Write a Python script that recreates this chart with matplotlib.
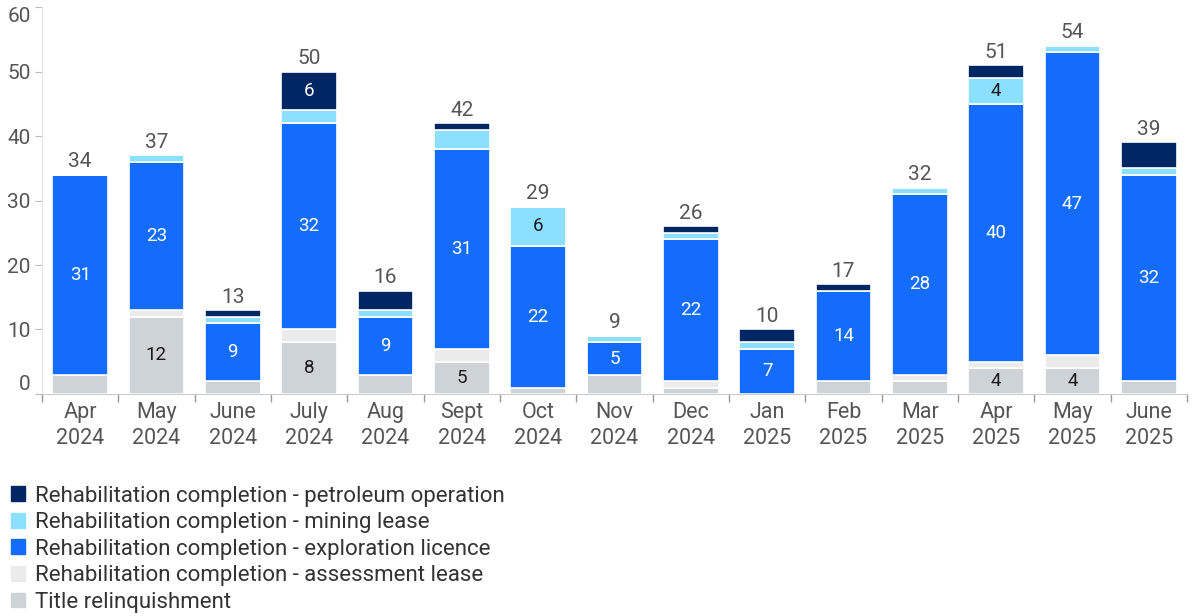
import numpy as np
import matplotlib.pyplot as plt
from matplotlib.patches import Patch

plt.rcParams['font.family'] = ['Roboto', 'DejaVu Sans']

# data
months = ['Apr\n2024', 'May\n2024', 'June\n2024', 'July\n2024', 'Aug\n2024', 'Sept\n2024', 'Oct\n2024',
          'Nov\n2024', 'Dec\n2024', 'Jan\n2025', 'Feb\n2025', 'Mar\n2025', 'Apr\n2025', 'May\n2025', 'June\n2025']
title_relinq = [3, 12, 2, 8, 3, 5, 1, 3, 1, 0, 2, 2, 4, 4, 2]
assessment = [0, 1, 0, 2, 0, 2, 0, 0, 1, 0, 0, 1, 1, 2, 0]
exploration = [31, 23, 9, 32, 9, 31, 22, 5, 22, 7, 14, 28, 40, 47, 32]
mining = [0, 1, 1, 2, 1, 3, 6, 1, 1, 1, 0, 1, 4, 1, 1]
petroleum = [0, 0, 1, 6, 3, 1, 0, 0, 1, 2, 1, 0, 2, 0, 4]

series = [
    ('Title relinquishment', title_relinq, '#cdd3d6', '#1a1a1a', 4),
    ('Rehabilitation completion - assessment lease', assessment, '#ebebeb', '#1a1a1a', 4),
    ('Rehabilitation completion - exploration licence', exploration, '#146cfd', 'white', 4),
    ('Rehabilitation completion - mining lease', mining, '#8ce0ff', '#1a1a1a', 4),
    ('Rehabilitation completion - petroleum operation', petroleum, '#002664', 'white', 5),
]

fig = plt.figure(figsize=(11.92, 6.16), dpi=100)
ax = fig.add_axes([0.0352, 0.3604, 0.9606, 0.6282])

x = np.arange(len(months))
bottom = np.zeros(len(months))
for name, vals, col, tcol, minlab in series:
    vals = np.array(vals, dtype=float)
    ax.bar(x, vals, 0.73, bottom=bottom, color=col, edgecolor='white', linewidth=1.2, label=name)
    for xi, b, v in zip(x, bottom, vals):
        if v >= minlab:
            ax.text(xi, b + v / 2, f'{int(v)}', ha='center', va='center', color=tcol, fontsize=13.5)
    bottom += vals

for xi, tot in zip(x, bottom):
    ax.text(xi, tot + 0.55, f'{int(tot)}', ha='center', va='bottom', color='#555555', fontsize=15)

ax.set_xlim(-0.5, len(months) - 0.5)
ax.set_ylim(0, 60)
ax.set_yticks(range(0, 61, 10))
ax.set_xticks(x)
ax.set_xticklabels(months, linespacing=1.3)
ax.set_xticks(np.arange(-0.5, len(months), 1), minor=True)
ax.tick_params(axis='x', which='major', length=0, pad=6, labelsize=15.5, labelcolor='#555555')
ax.tick_params(axis='x', which='minor', length=6, color='#999999', width=1)
ax.tick_params(axis='y', length=5, color='#bbbbbb', labelsize=15, labelcolor='#555555', pad=3)
for lab in ax.get_yticklabels():
    if lab.get_text() == '60':
        lab.set_va('top')
    elif lab.get_text() == '0':
        lab.set_va('bottom')

for s in ['top', 'right']:
    ax.spines[s].set_visible(False)
ax.spines['left'].set_color('#e6e6e6')
ax.spines['bottom'].set_color('#cccccc')

handles = [Patch(color=c, label=n) for n, v, c, t, m in series[::-1]]
fig.legend(handles=handles, loc='lower left', bbox_to_anchor=(-0.004, -0.02), frameon=False,
           fontsize=16, labelcolor='#333333', handlelength=0.65, handleheight=0.65,
           handletextpad=0.45, labelspacing=0.25, borderaxespad=0.3)

fig.savefig('out.png', dpi=100)
